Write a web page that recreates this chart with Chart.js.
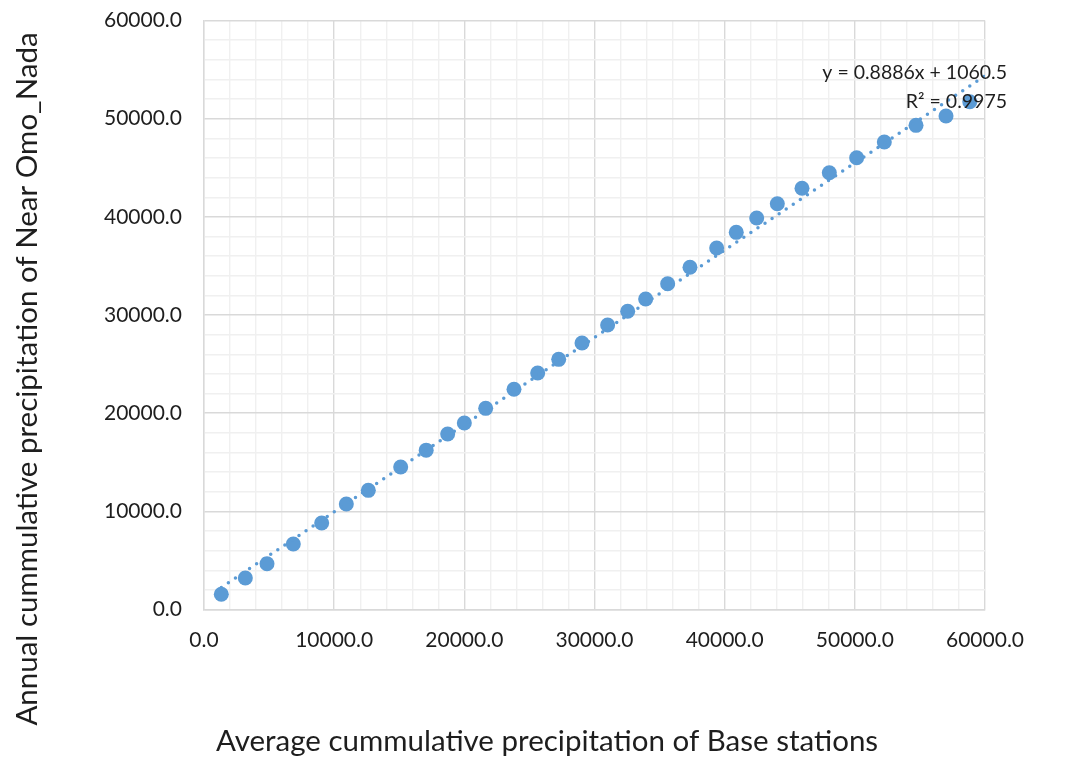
<!DOCTYPE html>
<html>
<head>
<meta charset="utf-8">
<script src="https://cdn.jsdelivr.net/npm/chart.js@4/dist/chart.umd.min.js"></script>
<style>
  html, body { margin: 0; padding: 0; background: #ffffff; }
  #wrap { width: 1066px; height: 761px; position: relative; }
</style>
</head>
<body>
<div id="wrap"><canvas id="chart"></canvas></div>
<script>
// Cumulative annual precipitation (mm): average of base stations vs. Near Omo_Nada
const baseStations = [1330, 3175, 4840, 6860, 9040, 10935, 12625, 15110, 17070, 18720,
  20000, 21640, 23815, 25635, 27250, 29040, 31010, 32550, 33930, 35620,
  37335, 39385, 40890, 42460, 44045, 45940, 48040, 50140, 52265, 54700,
  57005, 58830];
const nearOmoNada = [1550, 3210, 4665, 6670, 8810, 10745, 12140, 14515, 16230, 17880,
  19000, 20490, 22430, 24090, 25485, 27145, 28980, 30375, 31630, 33190,
  34860, 36825, 38420, 39880, 41335, 42905, 44495, 46020, 47620, 49320,
  50270, 51725];

// Linear trendline as stated on the chart
const trendSlope = 0.8886;
const trendIntercept = 1060.5;
const trendR2 = 0.9975;
const trendXRange = [baseStations[0], 60000];

// Axis ticks
const majorTicks = [0, 10000, 20000, 30000, 40000, 50000, 60000];
const tickLabels = ['0.0', '10000.0', '20000.0', '30000.0', '40000.0', '50000.0', '60000.0'];

const xTitle = 'Average cummulative precipitation of Base stations';
const yTitle = 'Annual cummulative precipitation of Near Omo_Nada';
const trendLabel = ['y = ' + trendSlope + 'x + ' + trendIntercept, 'R\u00B2 = ' + trendR2];

const blue = '#5B9BD5';

const scatterPoints = baseStations.map((x, i) => ({ x: x, y: nearOmoNada[i] }));
const trendPoints = trendXRange.map(x => ({ x: x, y: trendSlope * x + trendIntercept }));

function tickText(value) {
  const i = majorTicks.indexOf(value);
  return i >= 0 ? tickLabels[i] : '';
}
function gridColor(ctx) {
  return majorTicks.indexOf(ctx.tick.value) >= 0 ? '#d9d9d9' : '#f0f0f0';
}

// Axis titles and trendline equation drawn as canvas text
const textPlugin = {
  id: 'chartText',
  afterDraw(chart) {
    const ctx = chart.ctx;
    ctx.save();
    ctx.fillStyle = '#1e1e1e';
    ctx.font = '29.5px Lato';
    ctx.textAlign = 'center';
    ctx.textBaseline = 'middle';
    ctx.fillText(xTitle, 547, 741);
    ctx.translate(27, 379);
    ctx.rotate(-Math.PI / 2);
    ctx.fillText(yTitle, 0, 0);
    ctx.restore();

    ctx.save();
    ctx.fillStyle = '#1e1e1e';
    ctx.font = '19.5px Lato';
    ctx.textAlign = 'right';
    ctx.textBaseline = 'middle';
    ctx.fillText(trendLabel[0], 1007, 73);
    ctx.fillText(trendLabel[1], 1007, 102);
    ctx.restore();
  }
};

new Chart(document.getElementById('chart'), {
  type: 'scatter',
  data: {
    datasets: [
      {
        label: 'Near Omo_Nada',
        data: scatterPoints,
        backgroundColor: blue,
        borderWidth: 0,
        pointRadius: 7.5,
        pointHoverRadius: 7.5,
        order: 2
      },
      {
        label: 'Linear trend',
        data: trendPoints,
        showLine: true,
        borderColor: blue,
        borderWidth: 3.5,
        borderDash: [0, 8.5],
        borderCapStyle: 'round',
        pointRadius: 0,
        fill: false,
        order: 1
      }
    ]
  },
  options: {
    responsive: true,
    maintainAspectRatio: false,
    devicePixelRatio: 1,
    animation: false,
    layout: { padding: { top: 20.5, right: 81, left: 0, bottom: 0 } },
    plugins: {
      legend: { display: false },
      tooltip: { enabled: false }
    },
    scales: {
      x: {
        type: 'linear',
        min: 0,
        max: 60000,
        afterFit(scale) {
          scale.height = 151.5;
          scale.paddingLeft = 0;
          scale.paddingRight = 0;
        },
        ticks: {
          stepSize: 2000,
          autoSkip: false,
          maxRotation: 0,
          padding: 18,
          color: '#1e1e1e',
          font: { family: 'Lato', size: 21 },
          callback: tickText
        },
        grid: { color: gridColor, lineWidth: 1.4, drawTicks: false },
        border: { display: true, color: '#d9d9d9', width: 1.4 }
      },
      y: {
        type: 'linear',
        min: 0,
        max: 60000,
        afterFit(scale) {
          scale.width = 204;
          scale.paddingTop = 0;
          scale.paddingBottom = 0;
        },
        ticks: {
          stepSize: 2000,
          autoSkip: false,
          padding: 22,
          color: '#1e1e1e',
          font: { family: 'Lato', size: 21 },
          callback: tickText
        },
        grid: { color: gridColor, lineWidth: 1.4, drawTicks: false },
        border: { display: true, color: '#d9d9d9', width: 1.4 }
      }
    }
  },
  plugins: [textPlugin]
});
</script>
</body>
</html>
